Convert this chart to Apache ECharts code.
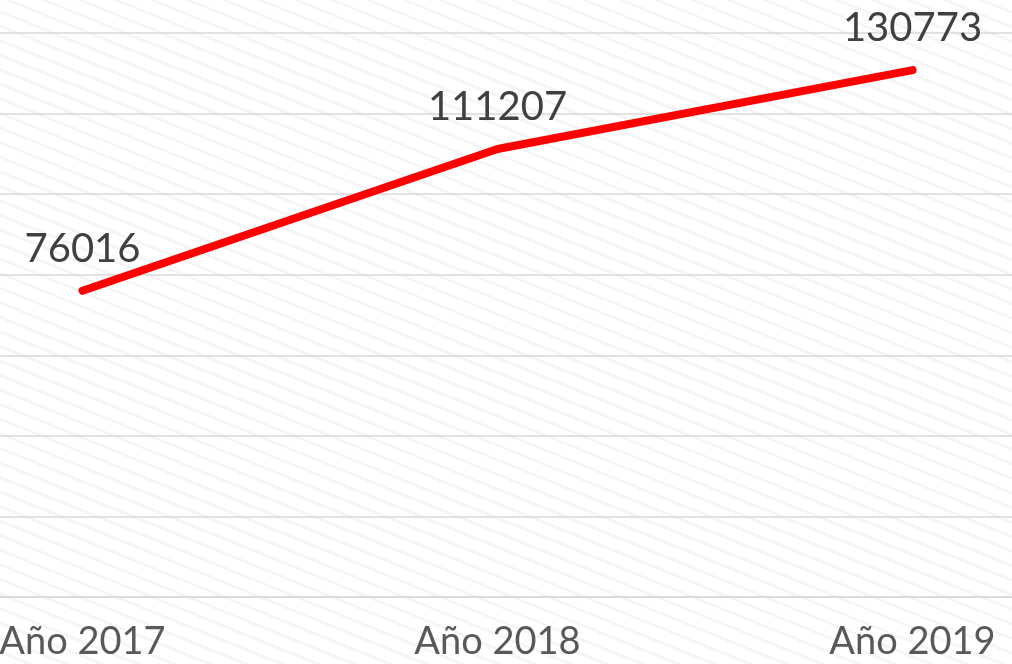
<!DOCTYPE html>
<html>
<head>
<meta charset="utf-8">
<script src="https://cdn.jsdelivr.net/npm/echarts@6/dist/echarts.min.js"></script>
<style>
  html, body { margin: 0; padding: 0; width: 1012px; height: 664px; overflow: hidden; }
  body {
    background-color: #ffffff;
    background-image: repeating-linear-gradient(
      22deg,
      rgba(255,255,255,0) 0px,
      rgba(255,255,255,0) 9px,
      rgba(226,226,226,0.45) 11px,
      rgba(255,255,255,0) 13.5px
    );
  }
  #chart { width: 1012px; height: 664px; }
</style>
</head>
<body>
<div id="chart"></div>
<script>
// Registered totals per year
const years = ['Año 2017', 'Año 2018', 'Año 2019'];
const totals = [76016, 111207, 130773];

const yMin = 0;
const yMax = 140000;
const yStep = 20000;

const fontFamily = 'Lato, "Open Sans", "DejaVu Sans", sans-serif';

const chart = echarts.init(document.getElementById('chart'), null, { renderer: 'canvas' });

chart.setOption({
  backgroundColor: 'transparent',
  animation: false,
  grid: {
    left: -125, right: -108, top: 33, bottom: 67,
    containLabel: false,
    outerBoundsMode: 'none'
  },
  xAxis: {
    type: 'category',
    data: years,
    boundaryGap: true,
    axisLine: { show: true, lineStyle: { color: '#d9d9d9', width: 1.5 } },
    axisTick: { show: false },
    axisLabel: {
      color: '#595959',
      fontSize: 38,
      fontFamily: fontFamily,
      margin: 26
    }
  },
  yAxis: {
    type: 'value',
    min: yMin,
    max: yMax,
    interval: yStep,
    axisLine: { show: false },
    axisTick: { show: false },
    axisLabel: { show: false },
    splitLine: { lineStyle: { color: '#d9d9d9', width: 1.5 } }
  },
  series: [{
    type: 'line',
    data: totals,
    showSymbol: true,
    symbol: 'circle',
    symbolSize: 2,
    itemStyle: { color: '#ff0000' },
    lineStyle: { color: '#ff0000', width: 8, cap: 'round', join: 'round' },
    label: {
      show: true,
      position: 'top',
      distance: 21,
      color: '#404040',
      fontSize: 40,
      fontFamily: fontFamily
    }
  }]
});
</script>
</body>
</html>
